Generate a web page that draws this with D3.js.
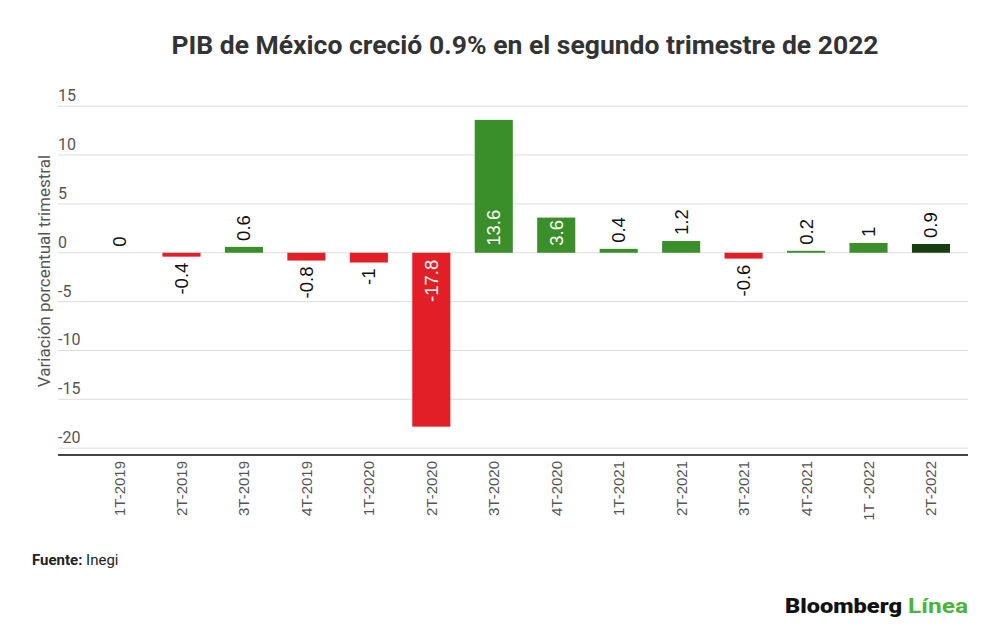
<!DOCTYPE html>
<html>
<head>
<meta charset="utf-8">
<script src="https://cdn.jsdelivr.net/npm/d3@7"></script>
<style>
  html, body { margin: 0; padding: 0; background: #fff; }
  svg { display: block; }
</style>
</head>
<body>
<svg id="chart" width="1000" height="634"></svg>
<script>
const categories = ["1T-2019","2T-2019","3T-2019","4T-2019","1T-2020","2T-2020","3T-2020","4T-2020","1T-2021","2T-2021","3T-2021","4T-2021","1T -2022","2T-2022"];
const values = [0, -0.4, 0.6, -0.8, -1, -17.8, 13.6, 3.6, 0.4, 1.2, -0.6, 0.2, 1, 0.9];
const valueLabels = ["0","-0.4","0.6","-0.8","-1","-17.8","13.6","3.6","0.4","1.2","-0.6","0.2","1","0.9"];
const yTicks = [15, 10, 5, 0, -5, -10, -15, -20];
const highlighted = "2T-2022";
const titleText = "PIB de México creció 0.9% en el segundo trimestre de 2022";
const yAxisTitle = "Variación porcentual trimestral";
const sourceLabel = "Fuente:";
const sourceText = " Inegi";

const svg = d3.select("#chart");
const left = 58, right = 968;

const x = d3.scaleBand().domain(categories).range([87.8, 962.2]).paddingInner(0.39).paddingOuter(0.195);
const y = d3.scaleLinear().domain([-20.7, 15]).range([455, 106.2]);

// Title
svg.append("text")
  .attr("x", 525).attr("y", 54)
  .attr("text-anchor", "middle")
  .attr("font-family", "Roboto, sans-serif")
  .attr("font-weight", 700)
  .attr("font-size", 26.5)
  .attr("fill", "#333")
  .text(titleText);

// Gridlines
svg.append("g").selectAll("line").data(yTicks).join("line")
  .attr("x1", left).attr("x2", right)
  .attr("y1", d => y(d)).attr("y2", d => y(d))
  .attr("stroke", "#dcdcdc").attr("stroke-width", 1);

// Y tick labels
svg.append("g").selectAll("text").data(yTicks).join("text")
  .attr("x", left).attr("y", d => y(d) - 5)
  .attr("font-family", "Roboto, sans-serif")
  .attr("font-size", 16)
  .attr("fill", "#555")
  .text(d => d);

// Y axis title
svg.append("text")
  .attr("transform", `translate(50,271) rotate(-90)`)
  .attr("text-anchor", "middle")
  .attr("font-family", "Roboto, sans-serif")
  .attr("font-size", 17)
  .attr("fill", "#555")
  .text(yAxisTitle);

// Bars
const data = categories.map((c, i) => ({c, v: values[i], label: valueLabels[i]}));
const color = d => d.c === highlighted ? "#173d10" : (d.v < 0 ? "#e21f26" : "#3a8f2b");

svg.append("g").selectAll("rect").data(data.filter(d => d.v !== 0)).join("rect")
  .attr("x", d => x(d.c))
  .attr("width", x.bandwidth())
  .attr("y", d => y(Math.max(0, d.v)))
  .attr("height", d => Math.abs(y(d.v) - y(0)))
  .attr("fill", color);

// Value labels
svg.append("g").selectAll("text").data(data).join("text")
  .attr("transform", d => {
    const inside = Math.abs(d.v) > 3;
    let yy;
    if (d.v >= 0) yy = inside ? y(0) - 7 : y(d.v) - 6;
    else yy = inside ? y(0) + 7 : y(d.v) + 6;
    return `translate(${x(d.c) + x.bandwidth()/2},${yy}) rotate(-90)`;
  })
  .attr("text-anchor", d => d.v >= 0 ? "start" : "end")
  .attr("dominant-baseline", "central")
  .attr("font-family", "'Liberation Sans', Arial, sans-serif")
  .attr("font-size", 18.5)
  .attr("fill", d => Math.abs(d.v) > 3 ? "#fff" : "#111")
  .text(d => d.label);

// X axis baseline
svg.append("line")
  .attr("x1", left).attr("x2", right)
  .attr("y1", 455).attr("y2", 455)
  .attr("stroke", "#444").attr("stroke-width", 2);

// X labels
svg.append("g").selectAll("text").data(categories).join("text")
  .attr("transform", d => `translate(${x(d) + x.bandwidth()/2},461) rotate(-90)`)
  .attr("text-anchor", "end")
  .attr("dominant-baseline", "central")
  .attr("font-family", "'Liberation Sans', Arial, sans-serif")
  .attr("font-size", 15)
  .attr("fill", "#555")
  .text(d => d);

// Source
const src = svg.append("text")
  .attr("x", 32).attr("y", 565)
  .attr("font-family", "Roboto, sans-serif")
  .attr("font-size", 15)
  .attr("fill", "#222");
src.append("tspan").attr("font-weight", 700).text(sourceLabel);
src.append("tspan").text(sourceText);

// Logo
const logo = svg.append("g");
logo.append("text")
  .attr("x", 785).attr("y", 613)
  .attr("font-family", "Roboto, sans-serif")
  .attr("font-weight", 900)
  .attr("font-size", 20)
  .attr("textLength", 117)
  .attr("lengthAdjust", "spacingAndGlyphs")
  .attr("fill", "#111")
  .text("Bloomberg");
logo.append("text")
  .attr("x", 908).attr("y", 613)
  .attr("font-family", "Roboto, sans-serif")
  .attr("font-weight", 700)
  .attr("font-size", 20)
  .attr("textLength", 60)
  .attr("lengthAdjust", "spacingAndGlyphs")
  .attr("fill", "#4cb33e")
  .text("Línea");
</script>
</body>
</html>
